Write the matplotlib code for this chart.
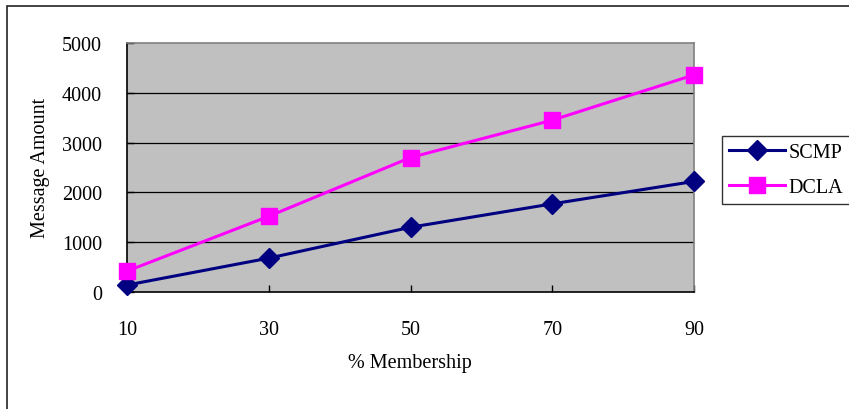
import matplotlib
matplotlib.use("Agg")
import matplotlib.pyplot as plt
from matplotlib.patches import Rectangle

membership = [10, 30, 50, 70, 90]
scmp = [140, 680, 1300, 1770, 2220]
dcla = [420, 1520, 2700, 3450, 4360]
y_ticks = [0, 1000, 2000, 3000, 4000, 5000]

W, H = 849, 410
fig = plt.figure(figsize=(W / 100, H / 100), dpi=100)
plt.rcParams["font.family"] = ["Liberation Serif", "DejaVu Serif"]

# chart frame around the whole figure
fig.patches.append(Rectangle((7 / W, -0.1), 1.2, 1 - 7 / H + 0.1,
                             transform=fig.transFigure, fill=False,
                             edgecolor="#222222", linewidth=1.2))

left, right, top, bottom = 127, 694, 44, 293
ax = fig.add_axes([left / W, 1 - bottom / H, (right - left) / W, (bottom - top) / H])
ax.set_facecolor("#C0C0C0")

for y in y_ticks[1:-1]:
    ax.axhline(y, color="black", linewidth=0.9, zorder=1)

ax.plot(membership, scmp, color="#000080", linewidth=2.2, marker="D",
        markersize=10, label="SCMP", zorder=3, clip_on=False)
ax.plot(membership, dcla, color="#FF00FF", linewidth=2.2, marker="s",
        markersize=11, label="DCLA", zorder=3, clip_on=False)

ax.set_xlim(10, 90)
ax.set_ylim(0, 5000)
ax.set_xticks(membership)
ax.set_yticks(y_ticks)
ax.tick_params(direction="in", length=5, width=1, labelsize=14.5, colors="black")
ax.tick_params(axis="x", pad=20)
ax.tick_params(axis="y", pad=18)

ax.spines["left"].set_color("black")
ax.spines["bottom"].set_color("black")
ax.spines["left"].set_linewidth(1.2)
ax.spines["bottom"].set_linewidth(1.2)
ax.spines["top"].set_color("#808080")
ax.spines["right"].set_color("#808080")
ax.spines["top"].set_linewidth(1.2)
ax.spines["right"].set_linewidth(1.2)

fig.text(40 / W, 1 - 168 / H, "Message Amount", rotation=90, ha="center",
         va="center", fontsize=14.5)
fig.text(410 / W, 1 - 364 / H, "% Membership", ha="center", va="center",
         fontsize=14.5)

leg = fig.legend(loc="upper left", bbox_to_anchor=(722 / W, 1 - 137 / H),
                 fontsize=14.5, frameon=True, fancybox=False, borderpad=0.35,
                 handlelength=2.8, handletextpad=0.15, labelspacing=0.8,
                 borderaxespad=0)
leg.get_frame().set_edgecolor("black")
leg.get_frame().set_linewidth(1.0)

fig.savefig("out.png", dpi=100)
